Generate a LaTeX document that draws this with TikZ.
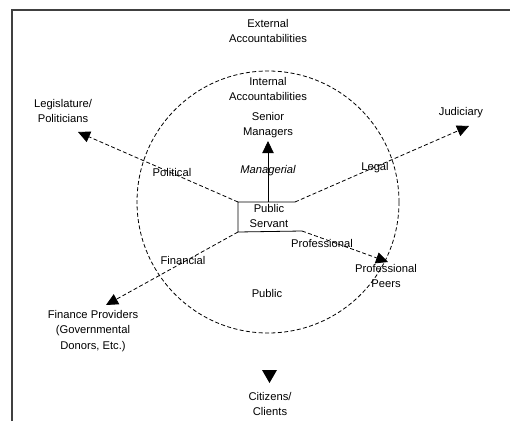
\documentclass[tikz,border=0pt]{standalone}
\usepackage{fontspec}
\setmainfont{Liberation Sans}
\usetikzlibrary{arrows.meta}
\begin{document}
\begin{tikzpicture}[x=0.75pt,y=-0.75pt,
  lbl/.style={font=\fontsize{8.4}{11.5}\selectfont, align=center, inner sep=1pt},
  dsh/.style={dash pattern=on 3pt off 1.8pt, line width=0.6pt},
  tip/.style={-{Triangle[length=9pt,width=8.5pt]}},
  frame/.style={line width=1.4pt, draw=black!75}]
\useasboundingbox (0,0) rectangle (510,421);
\draw[frame] (12,421) -- (12,10) -- (510,10);
% circle
\node[draw, dsh, circle, minimum size=196.5pt, inner sep=0pt] (circ) at (268,202) {};
% texts
\node[lbl] (ext) at (268,31) {External\\Accountabilities};
\node[lbl] (int) at (268,89) {Internal\\Accountabilities};
\node[lbl] (sen) at (268,125) {Senior\\Managers};
\node[lbl, font=\fontsize{8.4}{11.5}\selectfont\itshape] (man) at (268,171) {Managerial};
\node[lbl] (ps) at (269,216) {Public\\Servant};
\node[lbl] (leg) at (63,111) {Legislature/\\Politicians};
\node[lbl] (pol) at (172,172) {Political};
\node[lbl] (jud) at (461,113) {Judiciary};
\node[lbl] (lgl) at (375,168) {Legal};
\node[lbl] (pro) at (322,243) {Professional};
\node[lbl] (peer) at (386,276) {Professional\\Peers};
\node[lbl] (fin) at (183,260) {Financial};
\node[lbl] (fp) at (93,331) {Finance Providers\\(Governmental\\Donors, Etc.)};
\node[lbl] (pub) at (267,293) {Public};
\node[lbl] (cit) at (270,404) {Citizens/\\Clients};
% box corners
\coordinate (tl) at (238,202);
\coordinate (tr) at (295,202);
\coordinate (bl) at (238,232);
\coordinate (br) at (302,231);
\coordinate (smtip) at (268,141);
\coordinate (pstop) at (268,202);
\coordinate (legtip) at (78,132);
\coordinate (judtip) at (469,126);
\coordinate (peertip) at (388,262);
\coordinate (fptip) at (106,305);
\draw[line width=0.6pt] (tr) -- (tl) -- (bl) -- (br);
\draw[line width=0.6pt, tip] (pstop) -- (smtip);
\draw[dsh, tip] (tl) -- (legtip);
\draw[dsh, tip] (tr) -- (judtip);
\draw[dsh, tip] (br) -- (peertip);
\draw[dsh, tip] (bl) -- (fptip);
% citizens arrowhead
\coordinate (citA) at (262,370);
\coordinate (citB) at (277,370);
\coordinate (citC) at (269.5,383);
\fill (citA) -- (citB) -- (citC) -- cycle;
\end{tikzpicture}
\end{document}
